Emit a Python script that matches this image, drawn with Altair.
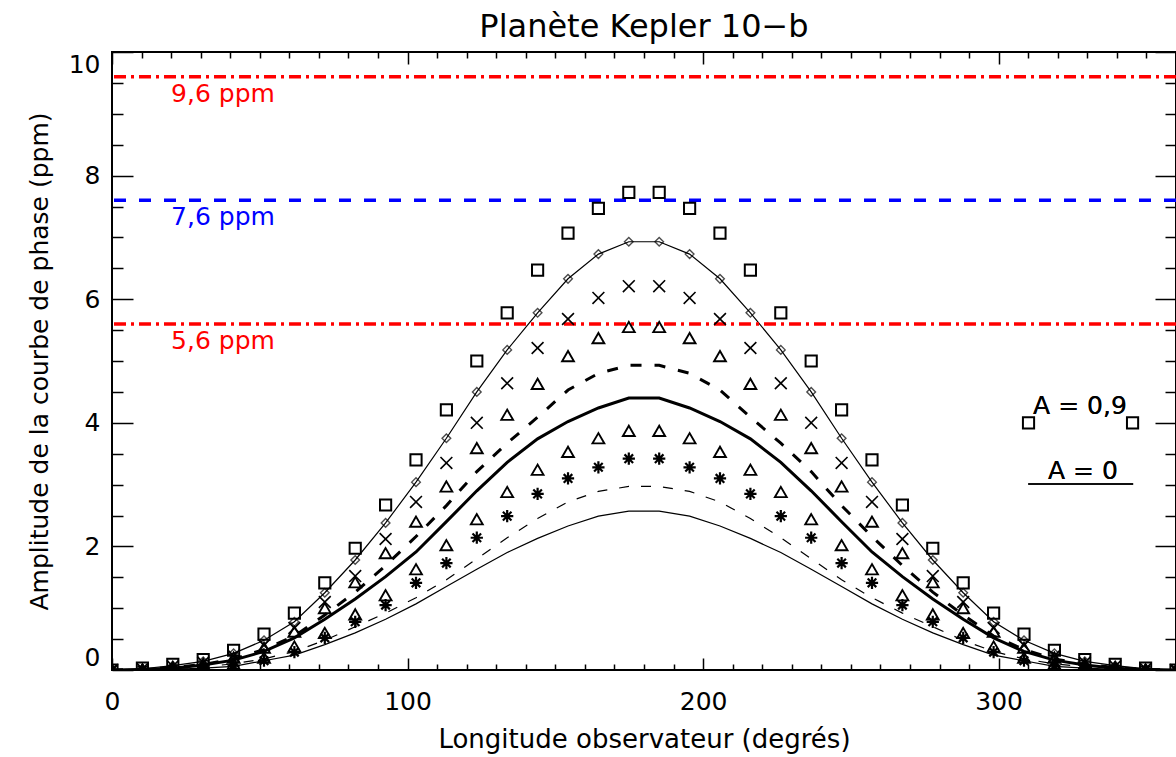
import altair as alt
import pandas as pd

# ---------------- data ----------------
longitude = [0.0, 10.29, 20.57, 30.86, 41.14, 51.43, 61.71, 72.0, 82.29, 92.57,
             102.86, 113.14, 123.43, 133.71, 144.0, 154.29, 164.57, 174.86,
             185.14, 195.43, 205.71, 216.0, 226.29, 236.57, 246.86, 257.14,
             267.43, 277.71, 288.0, 298.29, 308.57, 318.86, 329.14, 339.43,
             349.71, 360.0]

squares = [0.0, 0.03, 0.09, 0.17, 0.32, 0.58, 0.92, 1.41, 1.97, 2.67, 3.40, 4.21,
           5.00, 5.78, 6.47, 7.07, 7.47, 7.73, 7.73, 7.47, 7.07, 6.47, 5.78, 5.00,
           4.21, 3.40, 2.67, 1.97, 1.41, 0.92, 0.58, 0.32, 0.17, 0.09, 0.03, 0.0]
diamonds = [0.0, 0.02, 0.07, 0.14, 0.27, 0.48, 0.78, 1.25, 1.78, 2.38, 3.04, 3.75,
            4.50, 5.18, 5.78, 6.33, 6.73, 6.93, 6.93, 6.73, 6.33, 5.78, 5.18, 4.50,
            3.75, 3.04, 2.38, 1.78, 1.25, 0.78, 0.48, 0.27, 0.14, 0.07, 0.02, 0.0]
crosses = [0.0, 0.02, 0.06, 0.12, 0.23, 0.40, 0.68, 1.10, 1.52, 2.12, 2.72, 3.35,
           4.00, 4.64, 5.21, 5.68, 6.02, 6.21, 6.21, 6.02, 5.68, 5.21, 4.64, 4.00,
           3.35, 2.72, 2.12, 1.52, 1.10, 0.68, 0.40, 0.23, 0.12, 0.06, 0.02, 0.0]
tri_high = [0.0, 0.01, 0.05, 0.10, 0.20, 0.36, 0.62, 1.00, 1.42, 1.89, 2.40, 2.97,
            3.59, 4.13, 4.63, 5.08, 5.37, 5.55, 5.55, 5.37, 5.08, 4.63, 4.13, 3.59,
            2.97, 2.40, 1.89, 1.42, 1.00, 0.62, 0.36, 0.20, 0.10, 0.05, 0.01, 0.0]
tri_low = [0.0, 0.0, 0.02, 0.05, 0.10, 0.20, 0.38, 0.60, 0.90, 1.21, 1.63, 2.02,
           2.44, 2.88, 3.24, 3.53, 3.75, 3.87, 3.87, 3.75, 3.53, 3.24, 2.88, 2.44,
           2.02, 1.63, 1.21, 0.90, 0.60, 0.38, 0.20, 0.10, 0.05, 0.02, 0.0, 0.0]
stars = [0.0, 0.0, 0.01, 0.03, 0.07, 0.15, 0.29, 0.52, 0.78, 1.05, 1.41, 1.73,
         2.14, 2.49, 2.85, 3.10, 3.28, 3.42, 3.42, 3.28, 3.10, 2.85, 2.49, 2.14,
         1.73, 1.41, 1.05, 0.78, 0.52, 0.29, 0.15, 0.07, 0.03, 0.01, 0.0, 0.0]
thick_dashed = [0.0, 0.01, 0.04, 0.09, 0.18, 0.33, 0.55, 0.89, 1.26, 1.69, 2.16, 2.66,
                3.21, 3.67, 4.09, 4.53, 4.80, 4.93, 4.93, 4.80, 4.53, 4.09, 3.67, 3.21,
                2.66, 2.16, 1.69, 1.26, 0.89, 0.55, 0.33, 0.18, 0.09, 0.04, 0.01, 0.0]
thick_solid = [0.0, 0.01, 0.03, 0.08, 0.16, 0.30, 0.52, 0.82, 1.15, 1.51, 1.91, 2.40,
               2.90, 3.36, 3.74, 4.02, 4.24, 4.40, 4.40, 4.24, 4.02, 3.74, 3.36, 2.90,
               2.40, 1.91, 1.51, 1.15, 0.82, 0.52, 0.30, 0.16, 0.08, 0.03, 0.01, 0.0]
thin_dashed = [0.0, 0.0, 0.02, 0.05, 0.10, 0.18, 0.30, 0.48, 0.70, 0.92, 1.17, 1.46,
               1.80, 2.14, 2.45, 2.72, 2.89, 2.97, 2.97, 2.89, 2.72, 2.45, 2.14, 1.80,
               1.46, 1.17, 0.92, 0.70, 0.48, 0.30, 0.18, 0.10, 0.05, 0.02, 0.0, 0.0]
thin_solid = [0.0, 0.0, 0.01, 0.03, 0.06, 0.15, 0.24, 0.41, 0.60, 0.82, 1.07, 1.35,
              1.63, 1.90, 2.13, 2.33, 2.49, 2.57, 2.57, 2.49, 2.33, 2.13, 1.90, 1.63,
              1.35, 1.07, 0.82, 0.60, 0.41, 0.24, 0.15, 0.06, 0.03, 0.01, 0.0, 0.0]

red_levels = [9.6, 5.6]
red_labels = ["9,6 ppm", "5,6 ppm"]
blue_levels = [7.6]
blue_labels = ["7,6 ppm"]
ref_label_lon = 20

legend_square_lon = [310.1, 345.3]
legend_square_val = [4.0, 4.0]
legend_text_a09 = "A = 0,9"
legend_text_a0 = "A = 0"

x_major = [0, 100, 200, 300]
x_minor = [10, 20, 30, 40, 50, 60, 70, 80, 90, 110, 120, 130, 140, 150, 160, 170,
           180, 190, 210, 220, 230, 240, 250, 260, 270, 280, 290, 310, 320, 330,
           340, 350]
y_major = [0, 2, 4, 6, 8, 10]
y_minor = [0.5, 1, 1.5, 2.5, 3, 3.5, 4.5, 5, 5.5, 6.5, 7, 7.5, 8.5, 9, 9.5]

# ---------------- chart ----------------
FONT = "DejaVu Sans"
df = pd.DataFrame({
    "lon": longitude, "sq": squares, "dia": diamonds, "cross": crosses,
    "trih": tri_high, "tril": tri_low, "star": stars, "thd": thick_dashed,
    "ths": thick_solid, "tnd": thin_dashed, "tns": thin_solid,
})
xs = alt.Scale(domain=[0, 360], nice=False, zero=False)
ys = alt.Scale(domain=[0, 10], nice=False, zero=False)

tick_common = dict(labels=False, domain=False, grid=False, title=None,
                   tickColor="black", tickWidth=1.5)


def xaxis(orient, values, size):
    return alt.Axis(orient=orient, values=values, tickSize=size, offset=-size,
                    **tick_common)


def yaxis(orient, values, size):
    return alt.Axis(orient=orient, values=values, tickSize=size, offset=-size,
                    **tick_common)


x_label_axis = alt.Axis(orient="bottom", values=x_major, domain=False, ticks=False,
                        grid=False, labelPadding=19, labelFontSize=25,
                        labelFont=FONT, labelColor="black", labelFlush=False,
                        title="Longitude observateur (degrés)", titleFont=FONT,
                        titleFontSize=26, titleFontWeight="normal",
                        titleColor="black", titlePadding=12)
y_label_axis = alt.Axis(orient="left", values=y_major, domain=False, ticks=False,
                        grid=False, labelPadding=12, labelFontSize=25,
                        labelFont=FONT, labelColor="black", labelFlush=True,
                        title="Amplitude de la courbe de phase (ppm)",
                        titleFont=FONT, titleFontSize=25,
                        titleFontWeight="normal", titleColor="black",
                        titlePadding=16)

base = alt.Chart(df)


def X(axis):
    return alt.X("lon:Q", scale=xs, axis=axis)


def Y(field, axis):
    return alt.Y(f"{field}:Q", scale=ys, axis=axis)


l_thin_solid = base.mark_line(color="black", strokeWidth=1.2, clip=True).encode(
    x=X(x_label_axis), y=Y("tns", y_label_axis))
l_thin_dash = base.mark_line(color="black", strokeWidth=1.2, strokeDash=[10, 12],
                             clip=True).encode(
    x=X(xaxis("bottom", x_major, 12)), y=Y("tnd", yaxis("left", y_major, 21)))
l_thick_solid = base.mark_line(color="black", strokeWidth=3, clip=True).encode(
    x=X(xaxis("bottom", x_minor, 6)), y=Y("ths", yaxis("left", y_minor, 11)))
l_thick_dash = base.mark_line(color="black", strokeWidth=3, strokeDash=[11, 13],
                              clip=True).encode(
    x=X(xaxis("top", x_major, 12)), y=Y("thd", yaxis("right", y_major, 21)))
l_dia_line = base.mark_line(color="black", strokeWidth=1.2, clip=True).encode(
    x=X(xaxis("top", x_minor, 6)), y=Y("dia", yaxis("right", y_minor, 11)))

p_dia = base.mark_point(shape="diamond", size=75, filled=False, color="black",
                        strokeWidth=1.4, clip=True).encode(
    x=X(None), y=Y("dia", None))
p_sq = base.mark_point(shape="square", size=125, filled=False, color="black",
                       strokeWidth=2, opacity=1, clip=True).encode(x=X(None), y=Y("sq", None))
p_cross = base.mark_point(shape="M-1,-1L1,1M-1,1L1,-1", size=140, filled=False,
                          color="black", strokeWidth=1.6, opacity=1, clip=True).encode(
    x=X(None), y=Y("cross", None))
p_trih = base.mark_point(shape="triangle-up", size=140, filled=False, color="black",
                         strokeWidth=1.9, opacity=1, clip=True).encode(x=X(None), y=Y("trih", None))
p_tril = base.mark_point(shape="triangle-up", size=140, filled=False, color="black",
                         strokeWidth=1.9, opacity=1, clip=True).encode(x=X(None), y=Y("tril", None))
p_star = base.mark_point(shape="M-1,0L1,0M0,-1L0,1M-0.7,-0.7L0.7,0.7M-0.7,0.7L0.7,-0.7",
                         size=150, filled=False, color="black", strokeWidth=2.2,
                         opacity=1, clip=True).encode(x=X(None), y=Y("star", None))

red_df = pd.DataFrame({"level": red_levels, "label": red_labels})
blue_df = pd.DataFrame({"level": blue_levels, "label": blue_labels})

r_red = alt.Chart(red_df).mark_rule(color="#ff0000", strokeWidth=3.5,
                                    strokeDash=[12, 5, 3, 5]).encode(
    y=alt.Y("level:Q", scale=ys, axis=None))
r_blue = alt.Chart(blue_df).mark_rule(color="#0000ff", strokeWidth=3.5,
                                      strokeDash=[12, 13]).encode(
    y=alt.Y("level:Q", scale=ys, axis=None))
t_red = alt.Chart(red_df).mark_text(color="#ff0000", align="left", baseline="alphabetic",
                                    dy=25, fontSize=25, font=FONT).encode(
    x=alt.XDatum(ref_label_lon, scale=xs, axis=None),
    y=alt.Y("level:Q", scale=ys, axis=None), text="label:N")
t_blue = alt.Chart(blue_df).mark_text(color="#0000ff", align="left", baseline="alphabetic",
                                      dy=25, fontSize=25, font=FONT).encode(
    x=alt.XDatum(ref_label_lon, scale=xs, axis=None),
    y=alt.Y("level:Q", scale=ys, axis=None), text="label:N")

leg_df = pd.DataFrame({"lon": legend_square_lon, "val": legend_square_val})
leg_sq = alt.Chart(leg_df).mark_point(shape="square", size=125, filled=False,
                                      color="black", strokeWidth=2, opacity=1).encode(
    x=alt.X("lon:Q", scale=xs, axis=None), y=alt.Y("val:Q", scale=ys, axis=None))
leg_t1 = alt.Chart(leg_df).mark_text(fontSize=25, font=FONT, color="black",
                                     baseline="alphabetic", align="center").encode(
    x=alt.XDatum(327.5, scale=xs, axis=None), y=alt.YDatum(4.14, scale=ys, axis=None),
    text=alt.value(legend_text_a09))
leg_t2 = alt.Chart(leg_df).mark_text(fontSize=25, font=FONT, color="black",
                                     baseline="alphabetic", align="center").encode(
    x=alt.XDatum(328.5, scale=xs, axis=None), y=alt.YDatum(3.09, scale=ys, axis=None),
    text=alt.value(legend_text_a0))
leg_rule = alt.Chart(leg_df).mark_rule(color="black", strokeWidth=1.5).encode(
    x=alt.XDatum(310.0, scale=xs, axis=None), x2=alt.X2Datum(345.5),
    y=alt.YDatum(3.01, scale=ys, axis=None))

chart = alt.layer(
    l_thin_solid, l_thin_dash, l_thick_solid, l_thick_dash, l_dia_line,
    r_red, r_blue,
    p_dia, p_sq, p_cross, p_trih, p_tril, p_star,
    t_red, t_blue, leg_sq, leg_t1, leg_t2, leg_rule,
).resolve_axis(x="independent", y="independent").properties(
    width=1064, height=618,
    autosize=alt.AutoSizeParams(type="none"),
    padding={"left": 112, "top": 52, "right": 0, "bottom": 87},
    title=alt.TitleParams("Planète Kepler 10−b", fontSize=32, font=FONT,
                          fontWeight="normal", color="black", anchor="middle",
                          frame="group", baseline="alphabetic", offset=15, dy=33),
    background="white",
).configure_view(stroke="black", strokeWidth=2)

chart.save("out.html", embed_options={"renderer": "svg", "actions": False})
